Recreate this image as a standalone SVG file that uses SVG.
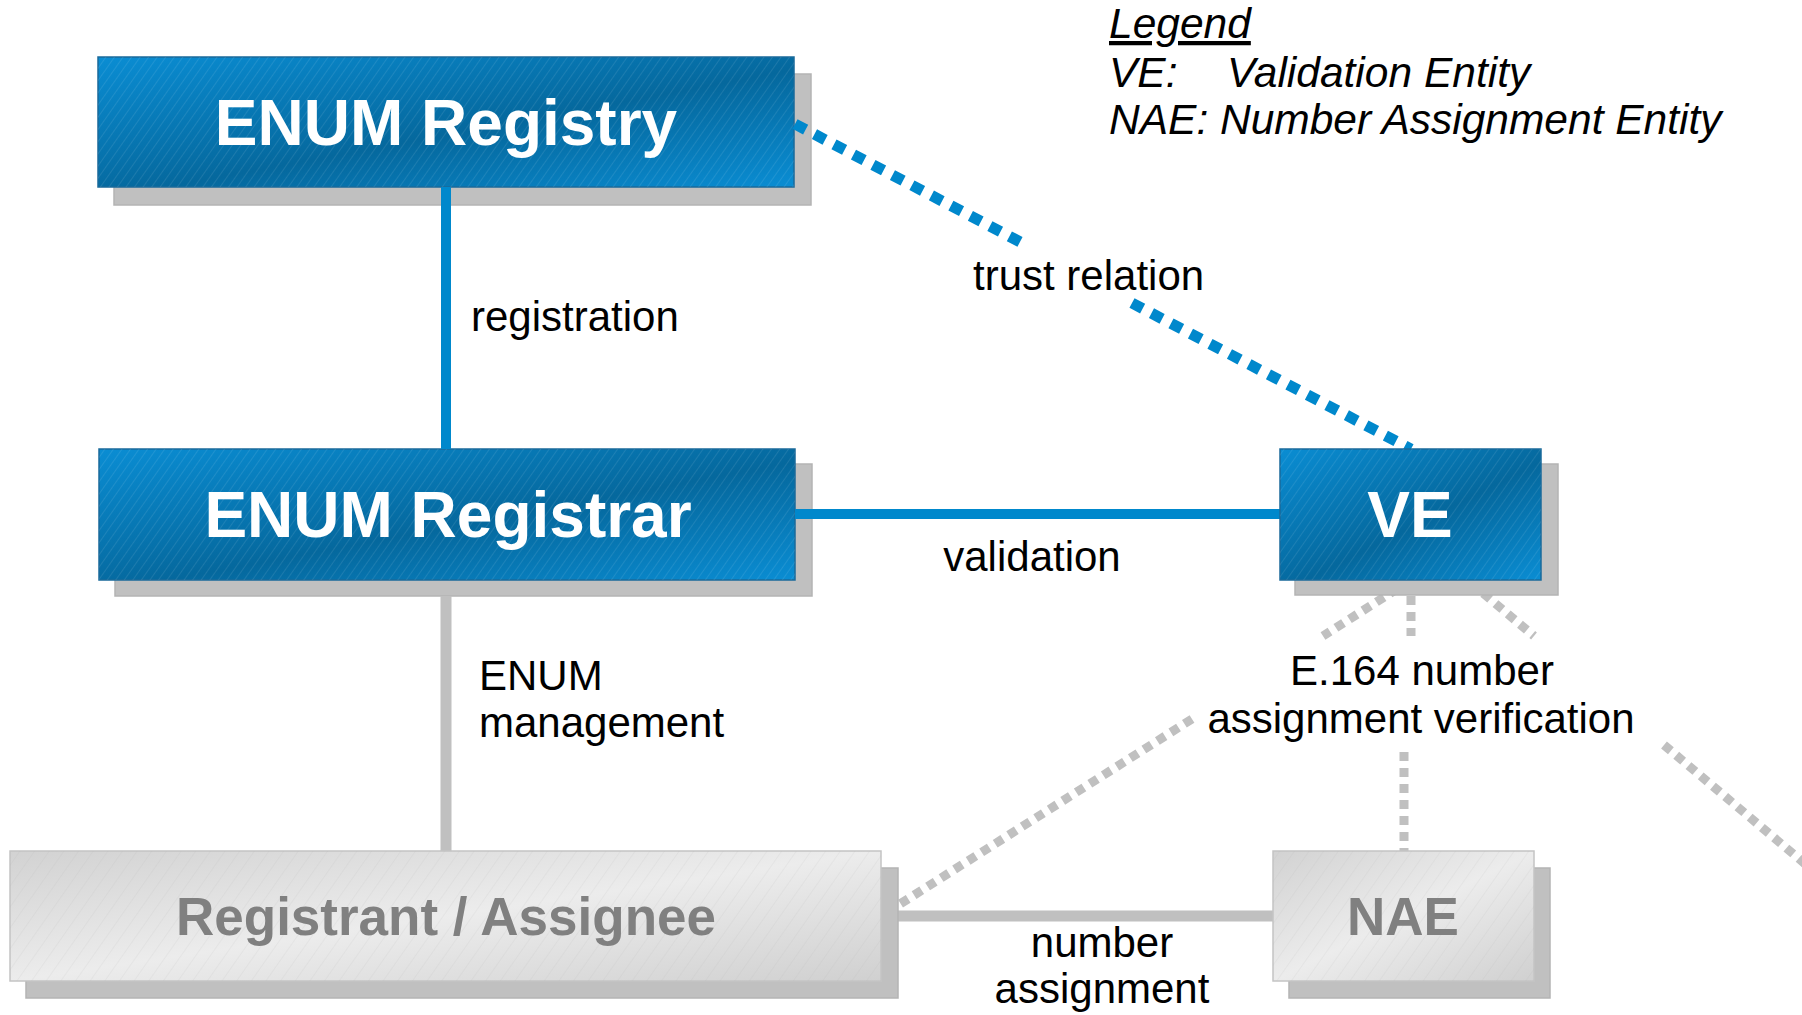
<svg xmlns="http://www.w3.org/2000/svg" width="1802" height="1015" viewBox="0 0 1802 1015">
<style>
.shadow{fill:#c0c0c0;stroke:#b4b4b4;stroke-width:1.5}
.bbox{stroke:#1a6a9a;stroke-width:1.5}
.gbox{stroke:#c4c4c4;stroke-width:1.5}
.btxt{font-family:"Liberation Sans",Arial,sans-serif;font-weight:bold;font-size:64px;fill:#ffffff;text-anchor:middle}
.gtxt{font-family:"Liberation Sans",Arial,sans-serif;font-weight:bold;font-size:53px;fill:#808080;text-anchor:middle}
.lbl{font-family:"Liberation Sans",Arial,sans-serif;font-size:42px;fill:#000000}
.leg{font-family:"Liberation Sans",Arial,sans-serif;font-size:42.5px;font-style:italic;fill:#000000}
.bsolid{stroke:#0088cc;stroke-width:10;fill:none}
.gsolid{stroke:#c0c0c0;stroke-width:11;fill:none}
.bdot{stroke:#0088cc;stroke-width:11;fill:none;stroke-dasharray:12 10}
.gdot{stroke:#c0c0c0;stroke-width:9;fill:none;stroke-dasharray:9 7}
</style>
<defs>
<linearGradient id="blueGrad" x1="0" y1="0" x2="1" y2="1">
<stop offset="0" stop-color="#0a8dd3"/>
<stop offset="0.55" stop-color="#05689d"/>
<stop offset="1" stop-color="#0a8dd3"/>
</linearGradient>
<linearGradient id="greyGrad" x1="0" y1="0" x2="1" y2="1">
<stop offset="0" stop-color="#d2d2d2"/>
<stop offset="0.5" stop-color="#ececec"/>
<stop offset="1" stop-color="#d0d0d0"/>
</linearGradient>
<pattern id="hatchB" width="7" height="7" patternUnits="userSpaceOnUse" patternTransform="rotate(35)">
<line x1="0" y1="0" x2="0" y2="7" stroke="#ffffff" stroke-opacity="0.12" stroke-width="1.5"/>
</pattern>
<pattern id="hatchG" width="12" height="12" patternUnits="userSpaceOnUse" patternTransform="rotate(35)">
<line x1="0" y1="0" x2="0" y2="12" stroke="#b0b0b0" stroke-opacity="0.25" stroke-width="1"/>
</pattern>
</defs>
<rect width="1802" height="1015" fill="#ffffff"/>

<g id="node-registry">
<rect class="shadow" x="114" y="74" width="697" height="131"/>
<rect class="bbox" x="98" y="57" width="696" height="130" fill="url(#blueGrad)"/>
<rect x="98" y="57" width="696" height="130" fill="url(#hatchB)"/>
<text class="btxt" x="446" y="145">ENUM Registry</text>
</g>

<g id="node-registrar">
<rect class="shadow" x="115" y="464" width="697" height="132"/>
<rect class="bbox" x="99" y="449" width="696" height="131" fill="url(#blueGrad)"/>
<rect x="99" y="449" width="696" height="131" fill="url(#hatchB)"/>
<text class="btxt" x="448" y="537">ENUM Registrar</text>
</g>

<g id="connectors">
<line class="bsolid" x1="446" y1="187" x2="446" y2="449"/>
<line class="bsolid" x1="795" y1="514" x2="1280" y2="514"/>
<line class="bdot" x1="795" y1="124" x2="1026" y2="245"/>
<line class="bdot" x1="1132" y1="303" x2="1411" y2="449"/>
<line class="gsolid" x1="446" y1="596" x2="446" y2="851"/>
<line class="gsolid" x1="881" y1="916" x2="1273" y2="916"/>
<line class="gdot" x1="1411" y1="580" x2="1323" y2="636"/>
<line class="gdot" x1="1192" y1="719" x2="900" y2="904"/>
<line class="gdot" x1="1411" y1="580" x2="1411" y2="636"/>
<line class="gdot" x1="1404" y1="752" x2="1404" y2="851"/>
<line class="gdot" x1="1471" y1="583" x2="1534" y2="636"/>
<line class="gdot" x1="1664" y1="745" x2="1810" y2="868"/>
<text class="lbl" x="471" y="331">registration</text>
<text class="lbl" x="973" y="290">trust relation</text>
<text class="lbl" x="1032" y="571" text-anchor="middle">validation</text>
<text class="lbl" x="479" y="690">ENUM</text>
<text class="lbl" x="479" y="737">management</text>
<text class="lbl" x="1422" y="685" text-anchor="middle">E.164 number</text>
<text class="lbl" x="1421" y="733" text-anchor="middle">assignment verification</text>
<text class="lbl" x="1102" y="957" text-anchor="middle">number</text>
<text class="lbl" x="1102" y="1003" text-anchor="middle">assignment</text>
</g>

<g id="node-ve">
<rect class="shadow" x="1295" y="464" width="263" height="131"/>
<rect class="bbox" x="1280" y="449" width="261" height="131" fill="url(#blueGrad)"/>
<rect x="1280" y="449" width="261" height="131" fill="url(#hatchB)"/>
<text class="btxt" x="1410" y="537">VE</text>
</g>

<g id="node-registrant">
<rect class="shadow" x="26" y="868" width="872" height="130"/>
<rect class="gbox" x="10" y="851" width="871" height="130" fill="url(#greyGrad)"/>
<rect x="10" y="851" width="871" height="130" fill="url(#hatchG)"/>
<text class="gtxt" x="446" y="935">Registrant / Assignee</text>
</g>

<g id="node-nae">
<rect class="shadow" x="1289" y="868" width="261" height="130"/>
<rect class="gbox" x="1273" y="851" width="261" height="130" fill="url(#greyGrad)"/>
<rect x="1273" y="851" width="261" height="130" fill="url(#hatchG)"/>
<text class="gtxt" x="1403" y="935">NAE</text>
</g>

<g id="legend">
<text class="leg" x="1109" y="38" text-decoration="underline">Legend</text>
<text class="leg" x="1109" y="87">VE:<tspan x="1227">Validation Entity</tspan></text>
<text class="leg" x="1109" y="134">NAE: Number Assignment Entity</text>
</g>
</svg>
